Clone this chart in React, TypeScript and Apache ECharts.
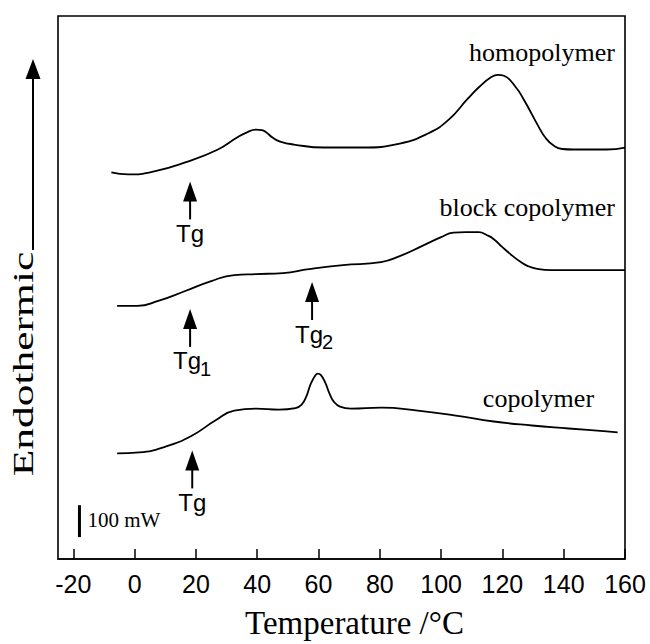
import React, { useEffect, useRef } from 'react';
import * as echarts from 'echarts';

// Temperature (°C) and heat-flow (arbitrary units, offset curves)
const homoT = [-7.6, -2.1, 6.4, 16.5, 27.2, 33.4, 36.5, 39.6, 41.5, 43.0, 45.0, 47.5, 52.0, 61.8, 74.2, 86.5, 96.3, 102.5, 108.7, 112.5, 116.5, 118.5, 120.5, 124.5, 127.0, 129.5, 131.8, 134.0, 136.7, 139.5, 143.0, 154.0, 160];
const homoY = [388, 386, 389, 398, 411, 423, 428, 431, 430.5, 428, 423, 419, 416, 413, 413, 417, 428, 441, 462, 474, 484, 486, 485, 473, 461, 447, 434, 423, 415, 411.5, 411, 411, 413];

const blockT = [-5.7, 0.9, 7.7, 16.5, 25.0, 32.5, 39.6, 48.4, 56.9, 68.0, 80.4, 86.5, 93.7, 100.0, 104.0, 108.0, 112.3, 115.0, 117.2, 120.0, 123.4, 126.0, 128.3, 131.0, 135.8, 147.8, 160];
const blockY = [254, 254, 259, 269, 279, 285, 286, 287, 291, 295, 298, 304, 314, 323, 327.5, 328, 328, 325, 321, 313, 304, 298, 294, 291.5, 290, 290, 290];

const copoT = [-5.7, 1.5, 10.3, 18.8, 26.3, 32.5, 39.6, 47.1, 52.5, 54.5, 56.0, 57.5, 59.0, 59.8, 60.8, 62.2, 63.6, 65.0, 67.0, 70.6, 80.4, 92.4, 104.8, 117.2, 129.6, 141.6, 154.0, 157.6];
const copoY = [106, 107, 113, 124, 139, 149, 151, 150, 151.5, 155, 163, 176, 184.5, 186, 184.5, 177, 166, 158, 153, 151, 152, 149, 144, 138, 134, 131, 128, 127];

const xTicks = [-20, 0, 20, 40, 60, 80, 100, 120, 140, 160];

const curveLabels = [
  { text: 'homopolymer', t: 156.7, v: 508 },
  { text: 'block copolymer', t: 156.7, v: 353 },
  { text: 'copolymer', t: 149.9, v: 161 },
];

const tgMarkers = [
  { t: 18.1, v: 379, sub: '' },
  { t: 18.1, v: 251, sub: '1' },
  { t: 57.9, v: 278, sub: '2' },
  { t: 18.8, v: 109, sub: '' },
];

const scaleBar = { t: -18, v0: 22, v1: 54, label: '100 mW', lt: -15.4, lv: 39 };

export default function App() {
  const ref = useRef<HTMLDivElement>(null);
  useEffect(() => {
    document.body.style.margin = '0';
    const chart = echarts.init(ref.current!, null, { renderer: 'svg' });
    const zip = (xs: number[], ys: number[]) => xs.map((x, i) => [x, ys[i]]);
    const lineSeries = (name: string, xs: number[], ys: number[]) => ({
      type: 'line',
      name,
      data: zip(xs, ys),
      smooth: 0.5,
      symbol: 'none',
      showSymbol: false,
      silent: true,
      lineStyle: { color: '#000', width: 1.8 },
    });
    chart.setOption({
      animation: false,
      grid: {
        left: 58, right: 25, top: 16, bottom: 83,
        show: true, borderColor: '#000', borderWidth: 1.6, backgroundColor: 'transparent',
      },
      xAxis: {
        type: 'value', min: -25, max: 160,
        axisLine: { show: true, lineStyle: { color: '#000', width: 1.6 } },
        axisTick: { show: true, inside: true, length: 10, customValues: xTicks, lineStyle: { color: '#000', width: 1.5 } },
        axisLabel: { customValues: xTicks, fontFamily: 'Liberation Sans', fontSize: 25, color: '#000', margin: 12 },
        splitLine: { show: false },
        name: 'Temperature /°C', nameLocation: 'middle', nameGap: 47,
        nameTextStyle: { fontFamily: 'Liberation Serif', fontSize: 33, color: '#000', padding: [0, 0, 0, 26] },
      },
      yAxis: {
        type: 'value', min: 0, max: 545,
        axisLine: { show: false }, axisTick: { show: false }, axisLabel: { show: false }, splitLine: { show: false },
      },
      series: [
        lineSeries('homopolymer', homoT, homoY),
        lineSeries('block copolymer', blockT, blockY),
        lineSeries('copolymer', copoT, copoY),
      ],
    });

    const px = (t: number, v: number) => chart.convertToPixel({ gridIndex: 0 }, [t, v]) as number[];
    const els: any[] = [];
    const serif = 'Liberation Serif';
    const sans = 'Liberation Sans';
    curveLabels.forEach((c) => {
      const [x, y] = px(c.t, c.v);
      els.push({ type: 'text', x, y, style: { text: c.text, fontFamily: serif, fontSize: 26, fill: '#000', align: 'right', verticalAlign: 'middle', textAlign: 'right', textVerticalAlign: 'middle' } });
    });
    tgMarkers.forEach((m) => {
      const [x, y] = px(m.t, m.v);
      els.push({ type: 'polygon', shape: { points: [[x, y], [x - 7, y + 20], [x + 7, y + 20]] }, style: { fill: '#000' } });
      els.push({ type: 'line', shape: { x1: x, y1: y + 18, x2: x, y2: y + 38 }, style: { stroke: '#000', lineWidth: 2 } });
      const dx = m.sub ? -3 : 0;
      els.push({ type: 'text', x: x + dx, y: y + 52, style: { text: 'Tg', fontFamily: sans, fontSize: 24, fill: '#000', align: 'center', verticalAlign: 'middle', textAlign: 'center', textVerticalAlign: 'middle' } });
      if (m.sub) {
        els.push({ type: 'text', x: x + 10, y: y + 60, style: { text: m.sub, fontFamily: sans, fontSize: 20, fill: '#000', align: 'left', verticalAlign: 'middle', textAlign: 'left', textVerticalAlign: 'middle' } });
      }
    });
    {
      const [x0, y0] = px(scaleBar.t, scaleBar.v0);
      const [, y1] = px(scaleBar.t, scaleBar.v1);
      els.push({ type: 'line', shape: { x1: x0, y1: y0, x2: x0, y2: y1 }, style: { stroke: '#000', lineWidth: 3 } });
      const [lx, ly] = px(scaleBar.lt, scaleBar.lv);
      els.push({ type: 'text', x: lx, y: ly, style: { text: scaleBar.label, fontFamily: serif, fontSize: 21, fill: '#000', align: 'left', verticalAlign: 'middle', textAlign: 'left', textVerticalAlign: 'middle' } });
    }
    // y-axis title with arrow
    els.push({ type: 'polygon', shape: { points: [[33, 59], [25.5, 79], [40.5, 79]] }, style: { fill: '#000' } });
    els.push({ type: 'line', shape: { x1: 33, y1: 77, x2: 33, y2: 250 }, style: { stroke: '#000', lineWidth: 2 } });
    els.push({ type: 'text', x: 23, y: 364, rotation: Math.PI / 2, scaleX: 1.5, style: { text: 'Endothermic', fontFamily: serif, fontSize: 29, fill: '#000', align: 'center', verticalAlign: 'middle', textAlign: 'center', textVerticalAlign: 'middle' } });

    chart.setOption({ graphic: { elements: els } });
    return () => chart.dispose();
  }, []);
  return <div ref={ref} style={{ width: 650, height: 644 }} />;
}
